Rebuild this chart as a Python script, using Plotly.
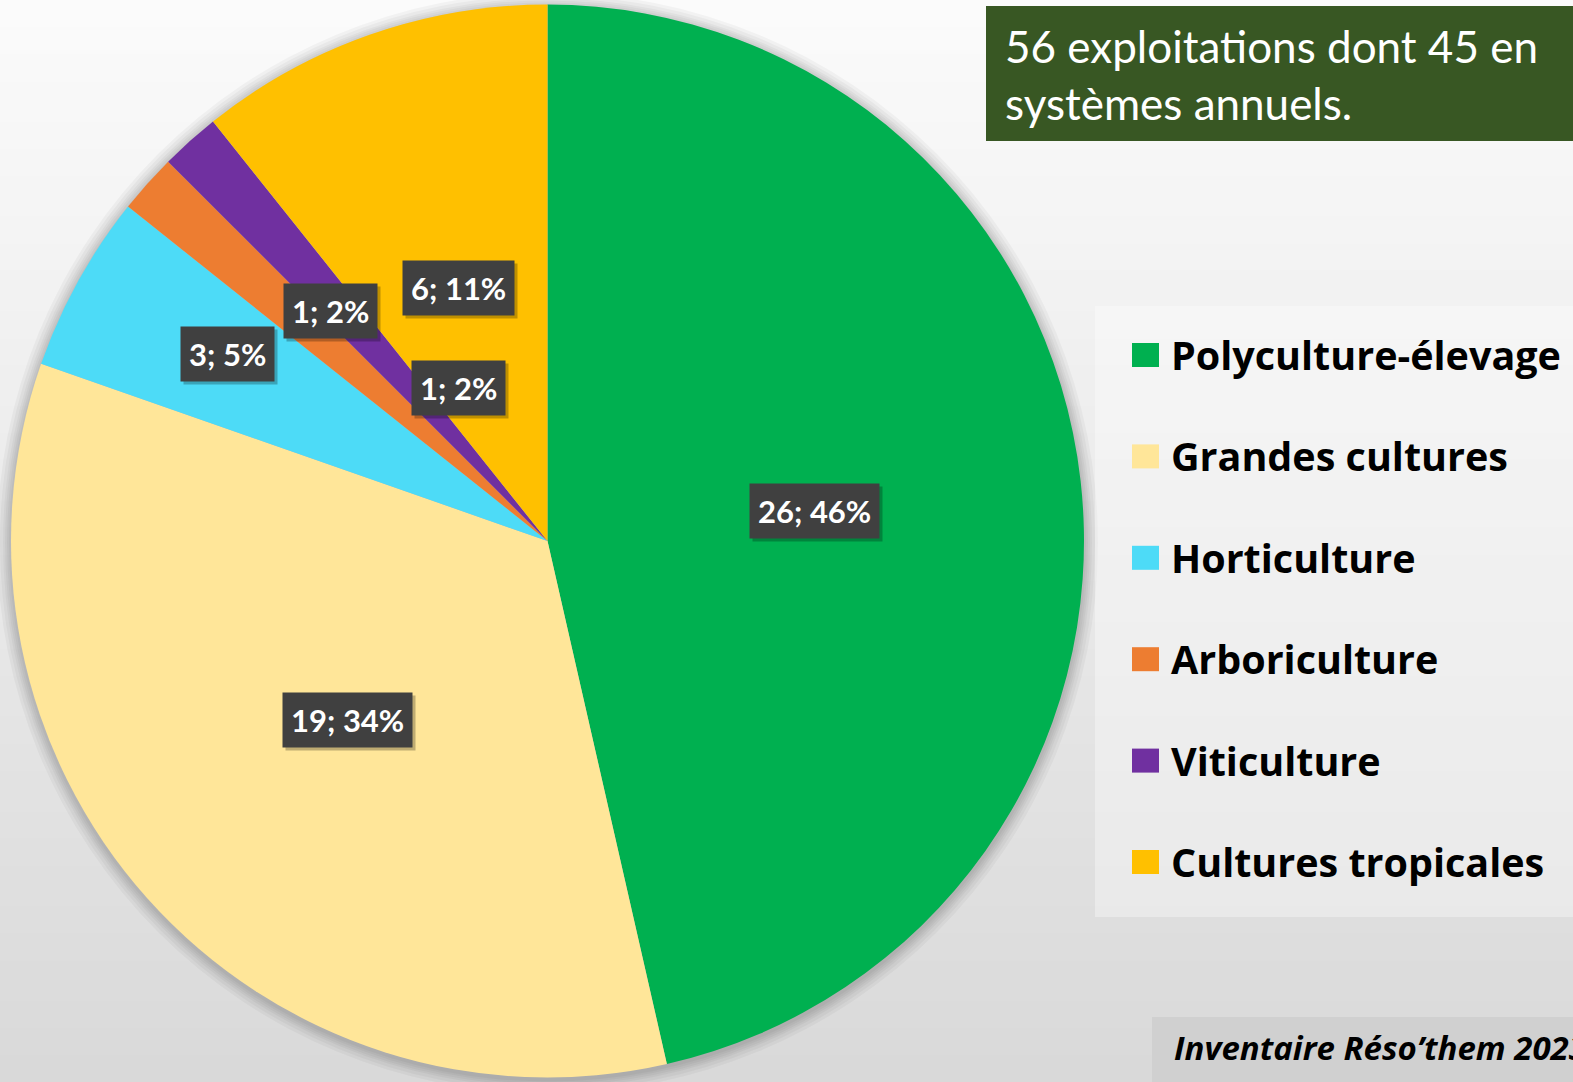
import math
import plotly.graph_objects as go

# ---------------- data ----------------
categories = ["Polyculture-élevage", "Grandes cultures", "Horticulture",
              "Arboriculture", "Viticulture", "Cultures tropicales"]
counts = [26, 19, 3, 1, 1, 6]
percent_labels = ["46%", "34%", "5%", "2%", "2%", "11%"]
colors = ["#00B050", "#FFE699", "#4DDBF7", "#ED7D31", "#7030A0", "#FFC000"]

title_text = "56 exploitations dont 45 en<br>systèmes annuels."
source_text = "Inventaire Réso’them 2023"

# label placement tweaks (fraction of radius, angular offset in degrees)
label_rfrac = [0.50, 0.50, 0.69, 0.59, 0.33, 0.50]
label_dang = [0.0, 0.0, 1.4, 4.9, 11.5, 0.0]

W, H = 1573, 1082
PIE_X0, PIE_X1 = 11, 1084


def px(x):
    return x / W


def py(y):
    return 1 - y / H


fig = go.Figure()
fig.add_trace(go.Pie(
    labels=categories, values=counts, sort=False, direction="clockwise",
    rotation=0, marker=dict(colors=colors, line=dict(width=0)),
    textinfo="none", hoverinfo="skip", showlegend=False,
    domain=dict(x=[px(PIE_X0), px(PIE_X1)], y=[0, 1]),
))

shapes = []
# background vertical gradient
n_bands = 80
top = (251, 251, 251)
bot = (217, 217, 217)
for i in range(n_bands):
    t = i / (n_bands - 1)
    c = tuple(round(top[k] + (bot[k] - top[k]) * t) for k in range(3))
    shapes.append(dict(type="rect", xref="paper", yref="paper", layer="below",
                       x0=-0.01, x1=1.01, y0=1 - (i + 1) / n_bands - 0.002, y1=1 - i / n_bands,
                       fillcolor="rgb(%d,%d,%d)" % c, line=dict(width=0)))

# pie geometry (pixels)
cx = (PIE_X0 + PIE_X1) / 2
R = min(PIE_X1 - PIE_X0, H) / 2
cy = H / 2

# soft shadow around the pie
for k, d in enumerate([14, 11, 8, 6, 4, 2]):
    rr = R + d
    shapes.append(dict(type="circle", xref="paper", yref="paper", layer="below",
                       x0=px(cx - rr), x1=px(cx + rr), y0=py(cy + rr + 2), y1=py(cy - rr + 2),
                       fillcolor="rgba(0,0,0,0.035)", line=dict(width=0)))

# title box
shapes.append(dict(type="rect", xref="paper", yref="paper",
                   x0=px(986), x1=1.01, y0=py(141), y1=py(6),
                   fillcolor="#385723", line=dict(width=0)))
# legend box
shapes.append(dict(type="rect", xref="paper", yref="paper",
                   x0=px(1095), x1=1.01, y0=py(917), y1=py(306),
                   fillcolor="rgba(255,255,255,0.35)", line=dict(width=0)))
# source box
shapes.append(dict(type="rect", xref="paper", yref="paper",
                   x0=px(1152), x1=1.01, y0=-0.01, y1=py(1017),
                   fillcolor="#D0D0D0", line=dict(width=0)))

annotations = []
# data labels
total = sum(counts)
cum = 0
for i, v in enumerate(counts):
    mid = (cum + v / 2) / total * 360 + label_dang[i]
    cum += v
    a = math.radians(mid)
    r = label_rfrac[i] * R
    lx = cx + r * math.sin(a)
    ly = cy - r * math.cos(a)
    txt = "%d; %s" % (v, percent_labels[i])
    # shadow
    annotations.append(dict(x=px(lx), y=py(ly), xref="paper", yref="paper",
                            text=txt, showarrow=False, xanchor="center", yanchor="middle",
                            xshift=3, yshift=-3,
                            font=dict(family="Lato", size=31, color="rgba(0,0,0,0)", weight="bold"),
                            bgcolor="rgba(0,0,0,0.25)", borderpad=8))
    annotations.append(dict(x=px(lx), y=py(ly), xref="paper", yref="paper",
                            text=txt, showarrow=False, xanchor="center", yanchor="middle",
                            font=dict(family="Lato", size=31, color="white", weight="bold"),
                            bgcolor="#404040", borderpad=8))

# manual legend
leg_y0 = 355
leg_step = 101.4
for i, (cat, col) in enumerate(zip(categories, colors)):
    yc = leg_y0 + i * leg_step
    shapes.append(dict(type="rect", xref="paper", yref="paper",
                       x0=px(1132), x1=px(1159), y0=py(yc + 12), y1=py(yc - 12),
                       fillcolor=col, line=dict(width=0)))
    annotations.append(dict(x=px(1169), y=py(yc), xref="paper", yref="paper",
                            text=cat, showarrow=False, xanchor="left", yanchor="middle",
                            font=dict(family="Open Sans", size=39.5, color="black", weight="bold")))

# title text
annotations.append(dict(x=px(1003), y=py(18), xref="paper", yref="paper",
                        text=title_text, showarrow=False, xanchor="left", yanchor="top",
                        align="left",
                        font=dict(family="Lato", size=44, color="white")))
# source text
annotations.append(dict(x=px(1172), y=py(1047), xref="paper", yref="paper",
                        text=source_text, showarrow=False, xanchor="left", yanchor="middle",
                        align="left",
                        font=dict(family="Open Sans", size=33, color="black", weight="bold",
                                  style="italic")))

fig.update_layout(
    width=W, height=H, margin=dict(l=0, r=0, t=0, b=0),
    paper_bgcolor="#EEEEEE", plot_bgcolor="rgba(0,0,0,0)",
    shapes=shapes, annotations=annotations, showlegend=False,
)

fig.write_html("out.html", config={"displayModeBar": False},
               post_script="document.body.style.margin='0';document.body.style.overflow='hidden';")

# make sure the page has no default body margin
with open("out.html", "r", encoding="utf-8") as f:
    html = f.read()
html = html.replace("<head>", "<head><style>html,body{margin:0;padding:0;overflow:hidden;}</style>", 1)
with open("out.html", "w", encoding="utf-8") as f:
    f.write(html)
